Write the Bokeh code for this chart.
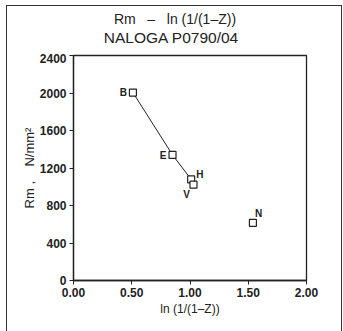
from bokeh.plotting import figure
from bokeh.layouts import column
from bokeh.models import (Range1d, FixedTicker, NumeralTickFormatter, Label, Div,
                          InlineStyleSheet)
from bokeh.embed import file_html
from bokeh.resources import INLINE

# data
names = ["B", "E", "H", "V", "N"]
lnz = [0.51, 0.85, 1.01, 1.03, 1.54]
rm = [2005, 1340, 1078, 1022, 615]
line_names = ["B", "E", "H", "V"]
x_ticks = [0.0, 0.5, 1.0, 1.5, 2.0]
y_ticks = [0, 400, 800, 1200, 1600, 2000, 2400]
NB = "\u00a0"
title1 = "Rm" + NB * 3 + "\u2013" + NB * 3 + "ln (1/(1\u2013Z))"
title2 = "NALOGA P0790/04"
x_title = "ln (1/(1\u2013Z))"
y_title = "Rm" + NB + "," + NB * 4 + "N/mm\u00b2"

FONT = "Liberation Sans"
TFONT = "'Liberation Sans', sans-serif"

HEAD_H = 53
header = Div(width=343, height=HEAD_H, margin=(0, 0, 0, 0), text=(
    f'<div style="position:relative;width:343px;height:{HEAD_H}px;font-family:{TFONT};color:#222;">'
    f'<div style="position:absolute;left:75px;width:200px;top:12px;text-align:center;'
    f'font-size:14px;line-height:14px;white-space:nowrap;">{title1}</div>'
    f'<div style="position:absolute;left:71px;width:200px;top:30px;text-align:center;'
    f'font-size:15.5px;line-height:16px;white-space:nowrap;">{title2}</div>'
    '</div>'))

p = figure(width=343, height=331 - HEAD_H, output_backend="svg", toolbar_location=None,
           x_range=Range1d(0, 2), y_range=Range1d(0, 2400), margin=(0, 0, 0, 0),
           min_border_left=73, min_border_right=37, min_border_top=2, min_border_bottom=51)
p.background_fill_color = "white"
p.border_fill_color = "white"
p.outline_line_color = "#222222"
p.outline_line_width = 1.3
p.xgrid.visible = False
p.ygrid.visible = False

for ax in (p.xaxis[0], p.yaxis[0]):
    ax.axis_line_color = "#222222"
    ax.axis_line_width = 1.3
    ax.major_tick_line_color = "#222222"
    ax.major_tick_in = 0
    ax.major_tick_out = 4
    ax.minor_tick_line_color = None
    ax.major_label_text_font = FONT
    ax.major_label_text_font_size = "12px"
    ax.major_label_text_font_style = "bold"
    ax.major_label_text_color = "#222222"
    ax.axis_label_text_font = FONT
    ax.axis_label_text_font_size = "12px"
    ax.axis_label_text_font_style = "normal"
    ax.axis_label_text_color = "#222222"

p.xaxis.ticker = FixedTicker(ticks=x_ticks)
p.xaxis.formatter = NumeralTickFormatter(format="0.00")
p.xaxis.major_label_standoff = 3
p.xaxis.axis_label = x_title
p.xaxis.axis_label_standoff = 2
p.yaxis.ticker = FixedTicker(ticks=y_ticks)
p.yaxis.major_label_standoff = 3
p.yaxis.axis_label = y_title
p.yaxis.axis_label_text_font_size = "13px"
p.yaxis.axis_label_standoff = 0

idx = [names.index(n) for n in line_names]
p.line([lnz[i] for i in idx], [rm[i] for i in idx], line_color="#222222", line_width=1)
p.scatter(lnz, rm, marker="square", size=7, fill_color="white",
          line_color="#222222", line_width=1.2)

offs = {"B": (-6, 0, "right", "middle"), "E": (-6, -1, "right", "middle"),
        "H": (5, 5, "left", "middle"), "V": (-7, -10, "center", "middle"),
        "N": (2, 9, "left", "middle")}
for n, x, y in zip(names, lnz, rm):
    dx, dy, al, bl = offs[n]
    p.add_layout(Label(x=x, y=y, x_offset=dx, y_offset=dy, text=n, text_align=al,
                       text_baseline=bl, text_font=FONT, text_font_size="10px",
                       text_font_style="bold", text_color="#222222"))

page = column(header, p, spacing=0, margin=(0, 0, 0, 0), width=343, height=331)
page.stylesheets = [InlineStyleSheet(css=(
    ":host{position:relative;background:white;}"
    ":host::after{content:'';position:absolute;left:6px;top:5px;width:336px;"
    "height:345px;border:1.5px solid #333;box-sizing:border-box;pointer-events:none;z-index:10;}"
))]

open("out.html", "w").write(file_html(page, INLINE))
